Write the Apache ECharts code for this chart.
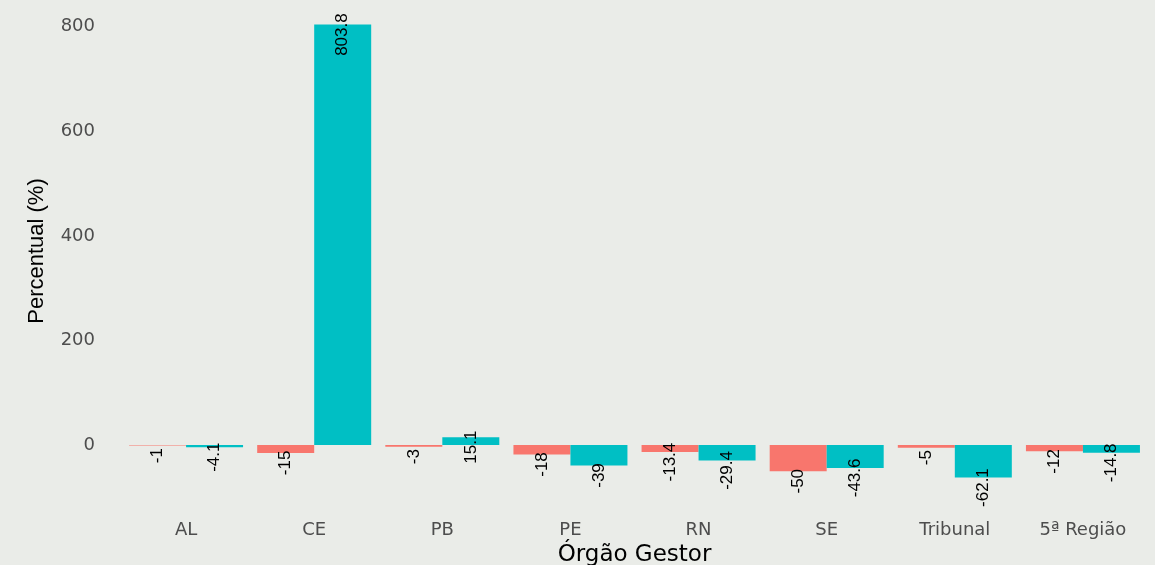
<!DOCTYPE html>
<html>
<head>
<meta charset="utf-8">
<title>Percentual por Órgão Gestor</title>
<script src="https://cdn.jsdelivr.net/npm/echarts@6/dist/echarts.min.js"></script>
<style>
  html, body { margin: 0; padding: 0; background: #eaece8; }
  #chart { width: 1155px; height: 565px; }
</style>
</head>
<body>
<div id="chart"></div>
<script>
// categorias e valores
var categorias = ['AL', 'CE', 'PB', 'PE', 'RN', 'SE', 'Tribunal', '5ª Região'];
var serieA = [-1, -15, -3, -18, -13.4, -50, -5, -12];
var serieB = [-4.1, 803.8, 15.1, -39, -29.4, -43.6, -62.1, -14.8];
var ticksY = [0, 200, 400, 600, 800];

var fonte = 'Liberation Sans, Arial, sans-serif';
var fonteLarga = 'DejaVu Sans, sans-serif';

// rotulo fica logo depois da ponta da barra, girado 90 graus
function montaDados(valores) {
    return valores.map(function (v) {
        return {
            value: v,
            label: {
                position: v < 0 ? ['50%', '100%'] : ['50%', '0%']
            }
        };
    });
}

var rotulo = {
    show: true,
    rotate: 90,
    align: 'center',
    verticalAlign: 'middle',
    offset: [-10, 0],   // com rotate 90 isso empurra para baixo
    color: '#000',
    fontSize: 17,
    fontFamily: fonte,
    formatter: function (p) { return String(p.value); }
};

var myChart = echarts.init(document.getElementById('chart'));

var option = {
    backgroundColor: 'transparent',
    animation: false,
    grid: {
        left: 122,
        right: 8,
        top: 2,
        bottom: 65,
        outerBoundsMode: 'none',
        containLabel: false
    },
    xAxis: {
        type: 'category',
        data: categorias,
        name: 'Órgão Gestor',
        nameLocation: 'middle',
        nameGap: 43,
        nameTextStyle: { color: '#000', fontSize: 23, fontFamily: fonteLarga },
        axisLine: { show: false },
        axisTick: { show: false },
        axisLabel: { color: '#4d4d4d', fontSize: 18, fontFamily: fonteLarga, margin: 21 }
    },
    yAxis: {
        type: 'value',
        min: -105,
        max: 847,
        name: 'Percentual (%)',
        nameLocation: 'middle',
        nameRotate: 90,
        nameGap: 74,
        nameTextStyle: { color: '#000', fontSize: 22, fontFamily: fonte },
        axisLine: { show: false },
        axisTick: { show: false },
        splitLine: { show: false },
        axisLabel: {
            customValues: ticksY,
            color: '#4d4d4d',
            fontSize: 18,
            fontFamily: fonteLarga,
            margin: 27
        }
    },
    series: [
        {
            name: 'Série A',
            type: 'bar',
            barWidth: 57,
            barGap: '0%',
            itemStyle: { color: '#F8766D' },
            label: rotulo,
            data: montaDados(serieA)
        },
        {
            name: 'Série B',
            type: 'bar',
            barWidth: 57,
            barGap: '0%',
            itemStyle: { color: '#00BFC4' },
            label: rotulo,
            data: montaDados(serieB)
        }
    ]
};

myChart.setOption(option);
</script>
</body>
</html>
